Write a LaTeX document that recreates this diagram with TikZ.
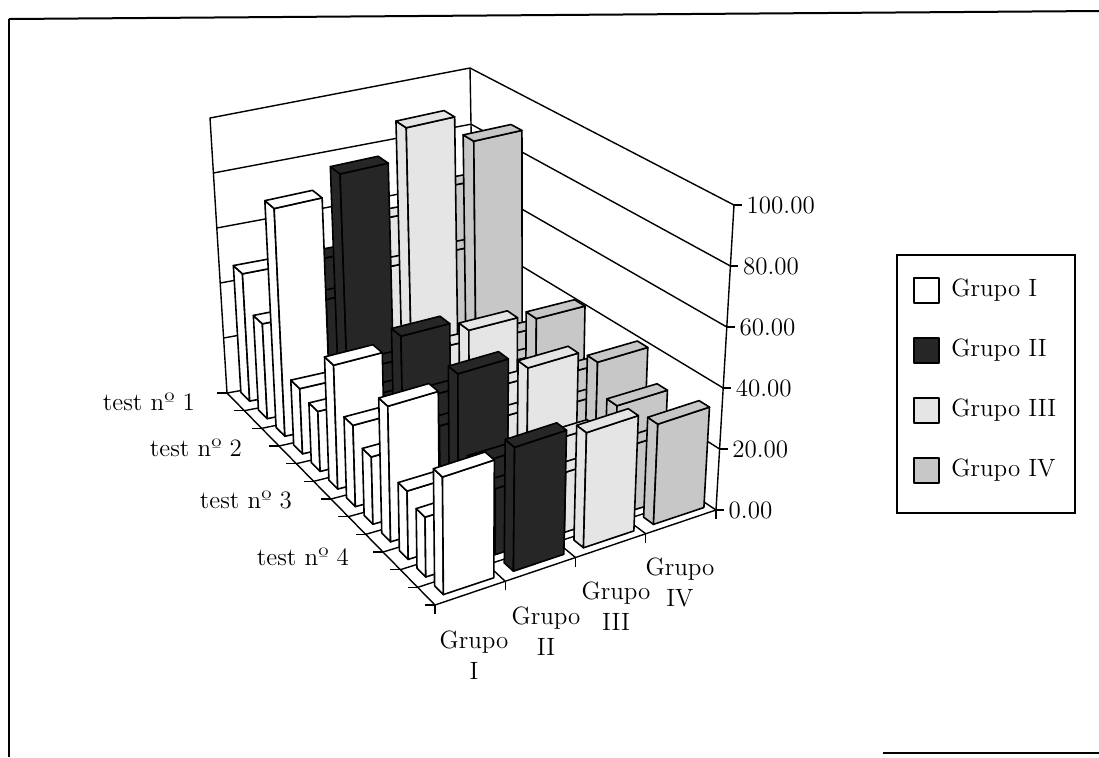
\documentclass[tikz,border=0pt]{standalone}
\usepackage{tikz}

\tikzset{
    declare function={
        fx(\u,\v)=435+281*\u-208*\v-33*\u*\v;
        fy(\u,\v)=605-95*\u-212*\v+51*\u*\v;
        tx(\u,\v)=432+302*\u-222*\v-42*\u*\v;
        ty(\u,\v)=303-98*\u-185*\v+48*\u*\v;
    },
    frame/.style={line width=1pt},
    wall/.style={line width=0.7pt},
    bar/.style={line width=0.8pt, line join=round},
    grupoI/.style={fill=white},
    grupoII/.style={fill=black!85},
    grupoIII/.style={fill=black!10},
    grupoIV/.style={fill=black!22},
}

\newcommand{\xyz}[3]{({(1-(#3))*fx(#1,#2)+(#3)*tx(#1,#2)},{(1-(#3))*fy(#1,#2)+(#3)*ty(#1,#2)})}

\newcommand{\barra}[4]{%
    \pgfmathsetmacro{\ua}{0.25*#1+0.05}
    \pgfmathsetmacro{\ub}{\ua+0.18}
    \pgfmathsetmacro{\va}{0.027+0.084*#2}
    \pgfmathsetmacro{\vb}{\va+0.042}
    \pgfmathsetmacro{\ww}{#3/100}
    \draw[bar,#4] \xyz{\ua}{\vb}{0} -- \xyz{\ua}{\va}{0} -- \xyz{\ua}{\va}{\ww} -- \xyz{\ua}{\vb}{\ww} -- cycle;
    \draw[bar,#4] \xyz{\ua}{\va}{0} -- \xyz{\ub}{\va}{0} -- \xyz{\ub}{\va}{\ww} -- \xyz{\ua}{\va}{\ww} -- cycle;
    \draw[bar,#4] \xyz{\ua}{\va}{\ww} -- \xyz{\ub}{\va}{\ww} -- \xyz{\ub}{\vb}{\ww} -- \xyz{\ua}{\vb}{\ww} -- cycle;
}

\begin{document}
\begin{tikzpicture}[x=0.5pt, y=-0.5pt, font=\fontsize{12.5}{15.5}\selectfont]
    \useasboundingbox (0,0) rectangle (1099,757);
    \draw[frame] (9,19) -- (1099,11);
    \draw[frame] (9,19) -- (9,757);
    \draw[frame] (883,753) -- (1099,753);

    \draw[wall] \xyz{0}{1}{0} -- \xyz{0}{1}{1} -- \xyz{1}{1}{1} -- \xyz{1}{0}{1} -- \xyz{1}{0}{0};
    \draw[wall] \xyz{1}{1}{0} -- \xyz{1}{1}{1};
    \foreach \w in {0.2,0.4,0.6,0.8}
        \draw[wall] \xyz{0}{1}{\w} -- \xyz{1}{1}{\w} -- \xyz{1}{0}{\w};
    \draw[wall] \xyz{0}{0}{0} -- \xyz{1}{0}{0} -- \xyz{1}{1}{0} -- \xyz{0}{1}{0} -- cycle;
    \foreach \k in {1,...,11}
        \draw[wall] \xyz{0}{\k/12}{0} -- \xyz{1}{\k/12}{0};
    \foreach \k in {1,2,3}
        \draw[wall] \xyz{\k/4}{0}{0} -- \xyz{\k/4}{1}{0};
    \foreach \k in {0,...,12}
        \draw[wall] \xyz{0}{\k/12}{0} -- ++(-10,0);
    \foreach \k in {0,...,4}
        \draw[wall] \xyz{\k/4}{0}{0} -- ++(0,9);
    \foreach \k/\lab in {0/0.00,1/20.00,2/40.00,3/60.00,4/80.00,5/100.00}
        \draw[wall] \xyz{1}{0}{\k/5} -- ++(8,0) node[anchor=west, inner sep=2pt] (val\k) {\lab};

    \foreach \s/\a/\b/\c/\d in {11/46/46/56/63, 10/34/38/45/46, 9/81/88/99/89,
        8/23/25/26/25, 7/21/22/22/22, 6/43/47/43/41, 5/28/31/28/26, 4/23/27/24/22,
        3/46/50/45/40, 2/23/25/25/30, 1/20/22/20/22, 0/39/41/38/33} {
        \barra{3}{\s}{\d}{grupoIV}
        \barra{2}{\s}{\c}{grupoIII}
        \barra{1}{\s}{\b}{grupoII}
        \barra{0}{\s}{\a}{grupoI}
    }

    \node[anchor=east] (test1) at (202,402) {test nº 1};
    \node[anchor=east] (test2) at (249,448) {test nº 2};
    \node[anchor=east] (test3) at (299,500) {test nº 3};
    \node[anchor=east] (test4) at (356,557) {test nº 4};

    \node[align=center] (grI) at (474,655) {Grupo\\I};
    \node[align=center] (grII) at (546,631) {Grupo\\II};
    \node[align=center] (grIII) at (616,606) {Grupo\\III};
    \node[align=center] (grIV) at (680,582) {Grupo\\IV};

    \draw[wall] (897,255) rectangle (1075,513);
    \foreach \i/\st/\name in {0/grupoI/Grupo I, 1/grupoII/Grupo II, 2/grupoIII/Grupo III, 3/grupoIV/Grupo IV} {
        \draw[bar,\st] (914,278+60*\i) rectangle ++(25,25);
        \node[anchor=west, inner sep=2pt] (leg\i) at (947,290.5+60*\i) {\name};
    }
\end{tikzpicture}
\end{document}
